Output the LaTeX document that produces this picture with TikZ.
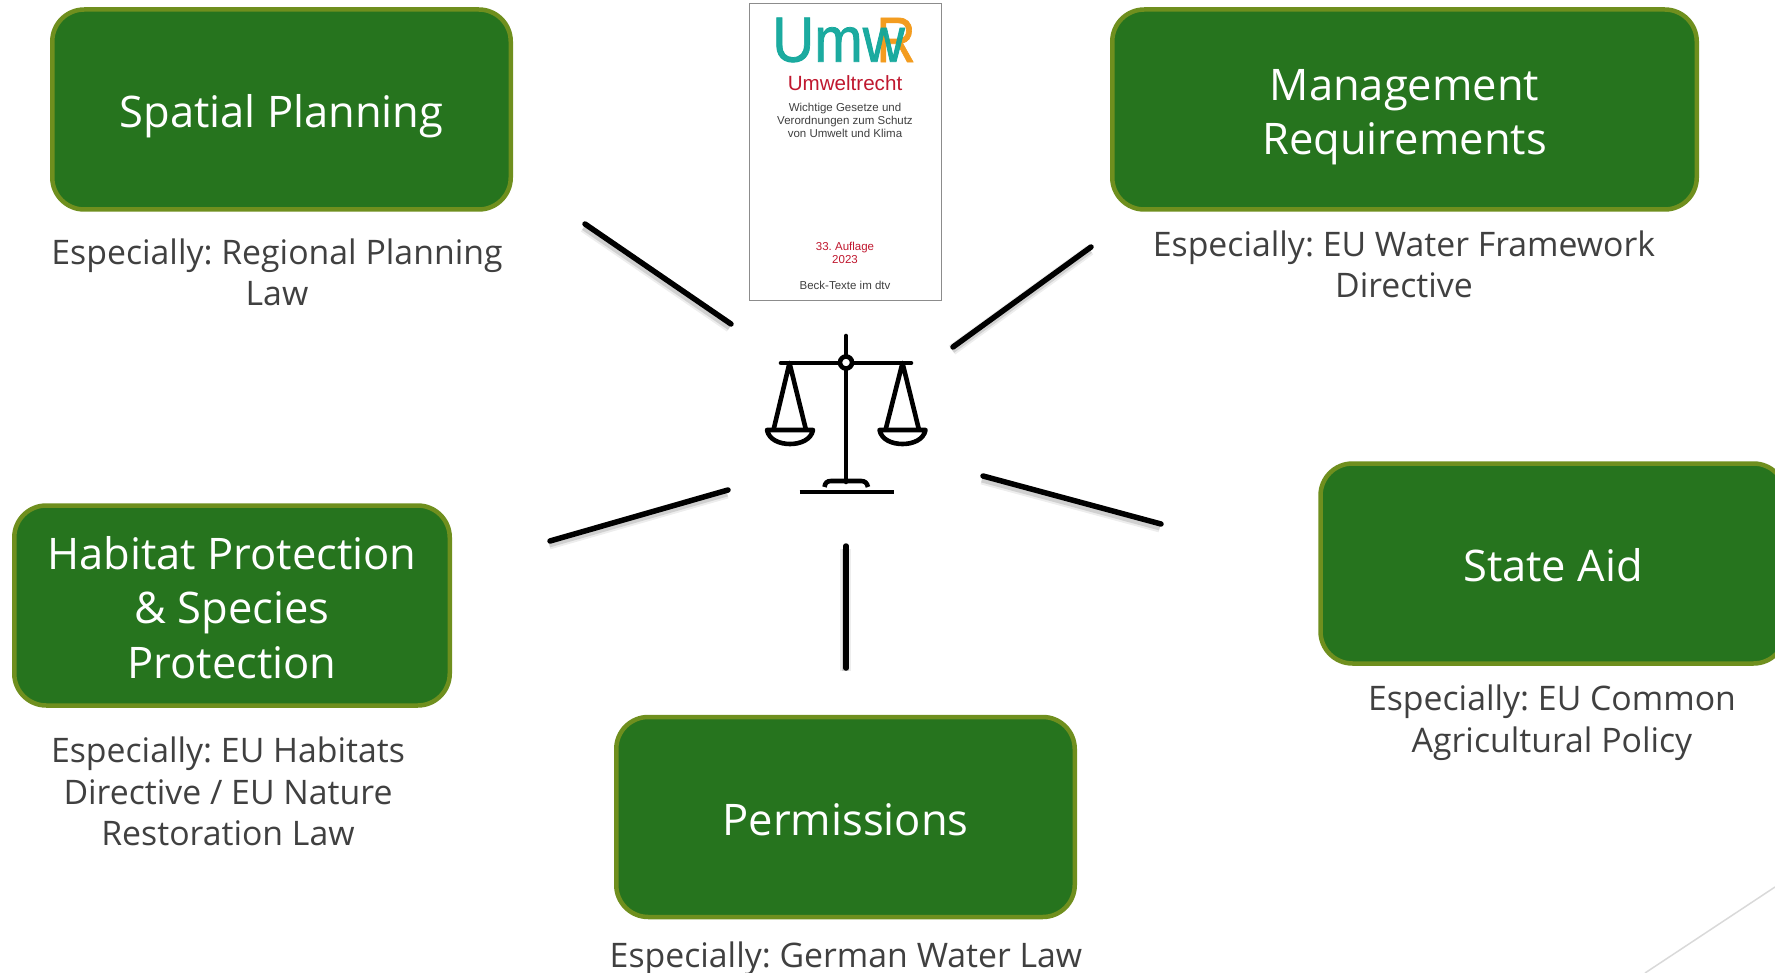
\documentclass[tikz,border=0pt]{standalone}
\usepackage{fontspec}
\setmainfont{Open Sans}
\newfontfamily\bookfont{Liberation Sans}
\newfontfamily\logofont[FakeBold=1.2]{Liberation Sans}
\definecolor{boxfill}{HTML}{26741E}
\definecolor{boxline}{HTML}{6F8F1E}
\definecolor{subtext}{HTML}{404040}
\definecolor{logoteal}{HTML}{10A79B}
\definecolor{logoorange}{HTML}{F39C1F}
\definecolor{bookred}{HTML}{C0182F}
\newcommand{\tstr}{\rule{0pt}{48pt}}
\newcommand{\bstr}{\rule[-12pt]{0pt}{0pt}}
\tikzset{
  greenbox/.style={draw=boxline,fill=boxfill,line width=4.5pt,rounded corners=32pt,minimum width=458.5pt,minimum height=200pt,inner sep=0pt,text=white,align=center,font=\frenchspacing\fontsize{43.5}{54.5}\selectfont},
  subnote/.style={text=subtext,align=center,inner sep=0pt,font=\frenchspacing\fontsize{33.8}{41.5}\selectfont},
  link/.style={line width=5.5pt,line cap=round,black,
    preaction={draw,black,opacity=.07,line width=11pt,transform canvas={xshift=-1pt,yshift=-3pt}},
    preaction={draw,black,opacity=.12,line width=7pt,transform canvas={xshift=-1pt,yshift=-3pt}}},
  scalepart/.style={line width=4.6pt,black},
  booktext/.style={inner sep=0pt,align=center,font=\frenchspacing\bookfont\fontsize{11.5}{13.2}\selectfont,text=black!75},
}
\begin{document}
\begin{tikzpicture}[x=1pt,y=-1pt]
\useasboundingbox (0,0) rectangle (1775,973);
\clip (0,0) rectangle (1775,973);
% corner line
\coordinate (c1) at (1645,973);
\coordinate (c2) at (1775,887);
\draw[color=black!15,line width=1.5pt] (c1) -- (c2);
% boxes
\node[greenbox] (spatial) at (281.5,109.5) {\tstr Spatial Planning\bstr};
\node[greenbox,minimum width=584.5pt] (manage) at (1404.5,109.5) {\tstr Management\\Requirements\bstr};
\node[greenbox,minimum width=435.5pt] (habitat) at (232,605.5) {\tstr Habitat Protection\\\&\ Species\\Protection\bstr};
\node[greenbox] (permit) at (845.5,817) {\tstr Permissions\bstr};
\node[greenbox,minimum width=465pt] (aid) at (1553,563.5) {\tstr State Aid\bstr};
% subtitles
\node[subnote] (n1) at (277,272.5) {Especially: Regional Planning\\Law};
\node[subnote] (n2) at (1404,264.5) {Especially: EU Water Framework\\Directive};
\node[subnote] (n3) at (228,791.5) {Especially: EU Habitats\\Directive / EU Nature\\Restoration Law};
\node[subnote] (n4) at (846,959) {Especially: German Water Law};
\node[subnote] (n5) at (1552,722.5) {Especially: EU Common\\Agricultural Policy};
% connectors
\coordinate (a1) at (585,224); \coordinate (a2) at (731,324);
\coordinate (b1) at (1091,247); \coordinate (b2) at (953,347);
\coordinate (d1) at (728,490); \coordinate (d2) at (550,541);
\coordinate (e1) at (983,476); \coordinate (e2) at (1161,524);
\coordinate (f1) at (846,546); \coordinate (f2) at (846,668);
\draw[link] (a1) -- (a2);
\draw[link] (b1) -- (b2);
\draw[link] (d1) -- (d2);
\draw[link] (e1) -- (e2);
\draw[link] (f1) -- (f2);
% book
\node[draw=black!45,line width=1pt,fill=white,minimum width=192pt,minimum height=297pt,inner sep=0pt] (book) at (845.5,152.5) {};
\node[inner sep=0pt,text=logoorange,font=\logofont\fontsize{64}{64}\selectfont,xscale=.85] (logoR) at (896,40) {R};
\node[inner sep=0pt,text=logoteal,opacity=.95,font=\logofont\fontsize{64}{64}\selectfont,xscale=.91] (logoU) at (838.5,40) {Umw};
\node[booktext,text=bookred,font=\bookfont\fontsize{20.6}{22}\selectfont] (bt1) at (845,83) {Umweltrecht};
\node[booktext] (bt2) at (845,120.5) {Wichtige Gesetze und\\Verordnungen zum Schutz\\von Umwelt und Klima};
\node[booktext,text=bookred] (bt3) at (845,252.5) {33. Auflage\\2023};
\node[booktext] (bt4) at (845,285) {Beck-Texte im dtv};
% scales
\draw[scalepart,line cap=round] (846,336) -- (846,482);
\draw[scalepart,line cap=round] (781,363) -- (911,363);
\draw[scalepart,line join=round] (773.5,430) -- (789.5,363) -- (806,430);
\draw[scalepart,line join=round] (885.5,430) -- (902.5,363) -- (919,430);
\draw[scalepart,line join=round] (767,430) -- (813,430) .. controls (811,440) and (800,444) .. (790,444) .. controls (780,444) and (769,440) .. (767,430) -- cycle;
\draw[scalepart,line join=round] (879.5,430) -- (925.5,430) .. controls (923.5,440) and (912.5,444) .. (902.5,444) .. controls (892.5,444) and (881.5,440) .. (879.5,430) -- cycle;
\draw[scalepart] (824.5,487) .. controls (825,483) and (827,481) .. (831,481) -- (861,481) .. controls (865,481) and (867,483) .. (868,487);
\draw[scalepart] (799.5,492) -- (894,492);
\draw[scalepart,fill=white] (846,362.5) circle (6pt);
\end{tikzpicture}
\end{document}
